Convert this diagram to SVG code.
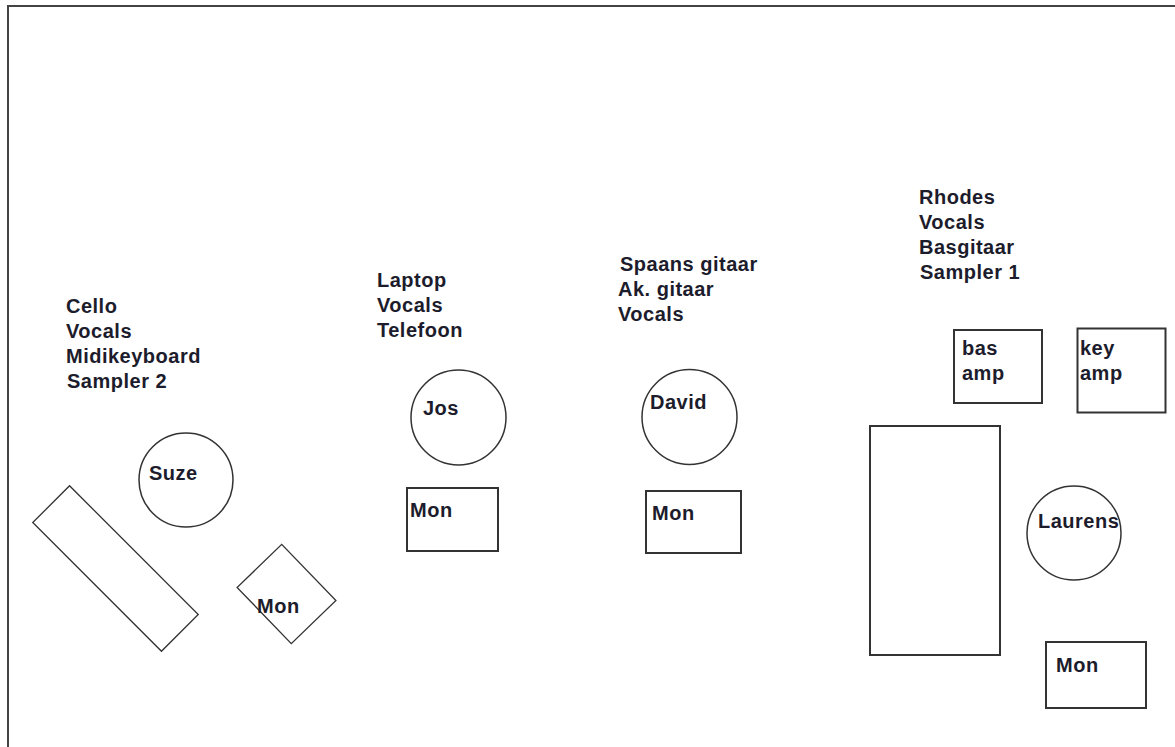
<svg xmlns="http://www.w3.org/2000/svg" width="1175" height="747" viewBox="0 0 1175 747">
<style>
text{font-family:"Liberation Sans",Arial,sans-serif;font-weight:bold;font-size:20px;letter-spacing:0.5px;fill:#1c1c2c}
.box{fill:none;stroke:#333;stroke-width:2}
.thin{fill:none;stroke:#333;stroke-width:1.3}
.circ{fill:none;stroke:#333;stroke-width:1.5}
</style>
<rect x="0" y="0" width="1175" height="747" fill="#fff"/>
<rect x="8" y="6" width="1200" height="800" fill="none" stroke="#444" stroke-width="2"/>
<g id="labels-suze">
<text x="66" y="313">Cello</text>
<text x="66" y="338">Vocals</text>
<text x="66" y="363">Midikeyboard</text>
<text x="67" y="388">Sampler 2</text>
</g>
<g id="suze"><circle class="circ" cx="186" cy="480" r="47"/><text x="149" y="480">Suze</text></g>
<g id="keyboard"><rect class="thin" x="-91" y="-26" width="182" height="52" transform="translate(115.5 568.5) rotate(45)"/></g>
<g id="mon-suze"><rect class="thin" x="-31" y="-39" width="62" height="78" transform="translate(286.5 594) rotate(-44)"/><text x="257" y="613">Mon</text></g>
<g id="labels-jos">
<text x="377" y="287">Laptop</text>
<text x="377" y="312">Vocals</text>
<text x="377" y="337">Telefoon</text>
</g>
<g id="jos"><circle class="circ" cx="458.5" cy="417.5" r="47.5"/><text x="423" y="415">Jos</text></g>
<g id="mon-jos"><rect class="box" x="407" y="488" width="91" height="63"/><text x="410" y="517">Mon</text></g>
<g id="labels-david">
<text x="620" y="271">Spaans gitaar</text>
<text x="618" y="296">Ak. gitaar</text>
<text x="618" y="321">Vocals</text>
</g>
<g id="david"><circle class="circ" cx="689.5" cy="417" r="47.5"/><text x="650" y="409">David</text></g>
<g id="mon-david"><rect class="box" x="646" y="491" width="95" height="62"/><text x="652" y="520">Mon</text></g>
<g id="labels-laurens">
<text x="919" y="204">Rhodes</text>
<text x="919" y="229">Vocals</text>
<text x="919" y="254">Basgitaar</text>
<text x="920" y="279">Sampler 1</text>
</g>
<g id="bas-amp"><rect class="box" x="954" y="330" width="88" height="73"/><text x="962" y="355">bas</text><text x="962" y="380">amp</text></g>
<g id="key-amp"><rect class="box" x="1077.5" y="328.5" width="88" height="84"/><text x="1080" y="355">key</text><text x="1080" y="380">amp</text></g>
<g id="riser"><rect class="box" x="870" y="426" width="130" height="229"/></g>
<g id="laurens"><circle class="circ" cx="1074" cy="533" r="47"/><text x="1038" y="528">Laurens</text></g>
<g id="mon-laurens"><rect class="box" x="1046" y="642" width="100" height="66"/><text x="1056" y="672">Mon</text></g>
<g id="connectors"></g>
</svg>
